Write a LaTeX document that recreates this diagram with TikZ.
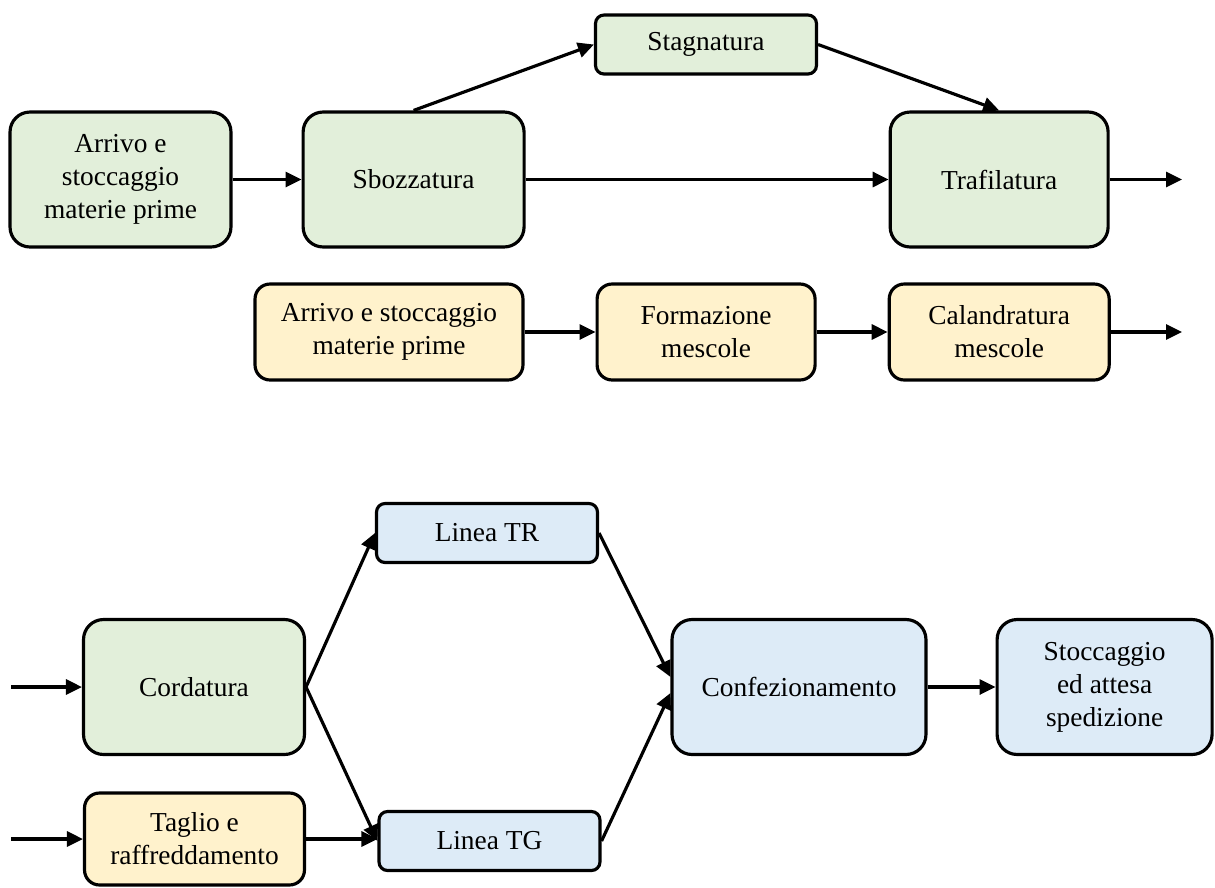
\documentclass[tikz,border=0pt]{standalone}
\usepackage{fontspec}
\setmainfont{Liberation Serif}
\usepackage{xcolor}
\usetikzlibrary{arrows.meta,positioning}

\definecolor{wiregreen}{HTML}{E2EFDA}
\definecolor{rubberyellow}{HTML}{FFF2CC}
\definecolor{packblue}{HTML}{DDEBF7}

\begin{document}
\begin{tikzpicture}[x=0.02cm,y=-0.02cm,
    every node/.style={font=\fontsize{15.6pt}{18.8pt}\selectfont,align=center,inner sep=2pt},
    stage/.style={draw,line width=1.8pt,rounded corners=0.4cm,minimum width=4.42cm,
    minimum height=2.7cm},
    wirebox/.style={stage,fill=wiregreen},
    rubberbox/.style={stage,fill=rubberyellow,rounded corners=0.3cm,minimum width=4.4cm,
    minimum height=1.92cm},
    packbox/.style={stage,fill=packblue},
    lowbox/.style={rounded corners=0.17cm,minimum height=1.18cm},
    flow/.style={line width=1.8pt,-{Triangle[length=3.2mm,width=3mm]}}]
    \useasboundingbox (0,0) rectangle (1215,887);

    % wire line
    \node[wirebox] (arr1) at (120.5,179.5) {Arrivo e\\stoccaggio\\materie prime};
    \node[wirebox,right=1.38cm of arr1] (sbozz) {Sbozzatura};
    \node[wirebox,lowbox] (stagn) at (706,44.5) {Stagnatura};
    \node[wirebox,minimum width=4.36cm,right=7.26cm of sbozz] (trafil) {Trafilatura};
    \coordinate (out1) at (1182,179.5);

    % rubber line
    \node[rubberbox,minimum width=5.36cm] (arr2) at (389,332) {Arrivo e stoccaggio\\materie prime};
    \node[rubberbox,minimum width=4.36cm,right=1.42cm of arr2] (form) {Formazione\\mescole};
    \node[rubberbox,right=1.42cm of form] (cal) {Calandratura\\mescole};
    \coordinate (out2) at (1182,332);

    % assembly
    \node[wirebox] (cord) at (194,687) {Cordatura};
    \node[rubberbox,minimum height=1.84cm] (tagl) at (194.5,839) {Taglio e\\raffreddamento};
    \node[packbox,lowbox] (ltr) at (487,533) {Linea TR};
    \node[packbox,lowbox] (ltg) at (489.5,841) {Linea TG};
    \node[packbox,minimum width=5.08cm] (conf) at (799,687) {Confezionamento};
    \node[packbox,minimum width=4.3cm,right=1.36cm of conf] (stocc) {Stoccaggio\\ed attesa\\spedizione};
    \coordinate (in1) at (11,687);
    \coordinate (in2) at (11,839);

    \draw[flow] (arr1) -- (sbozz);
    \draw[flow] (sbozz.north) -- (stagn.west);
    \draw[flow] (stagn.east) -- (trafil.north);
    \draw[flow] (sbozz) -- (trafil);
    \draw[flow] (trafil) -- (out1);

    \draw[flow] (arr2) -- (form);
    \draw[flow] (form) -- (cal);
    \draw[flow] (cal) -- (out2);

    \draw[flow] (in1) -- (cord);
    \draw[flow] (in2) -- (tagl);
    \draw[flow] (cord.east) -- (ltr.west);
    \draw[flow] (cord.east) -- (ltg.west);
    \draw[flow] (tagl.east) -- (tagl.east-|ltg.west);
    \draw[flow] (ltr.east) -- ([yshift=2mm]conf.west);
    \draw[flow] (ltg.east) -- ([yshift=-1.2mm]conf.west);
    \draw[flow] (conf) -- (stocc);
\end{tikzpicture}
\end{document}
